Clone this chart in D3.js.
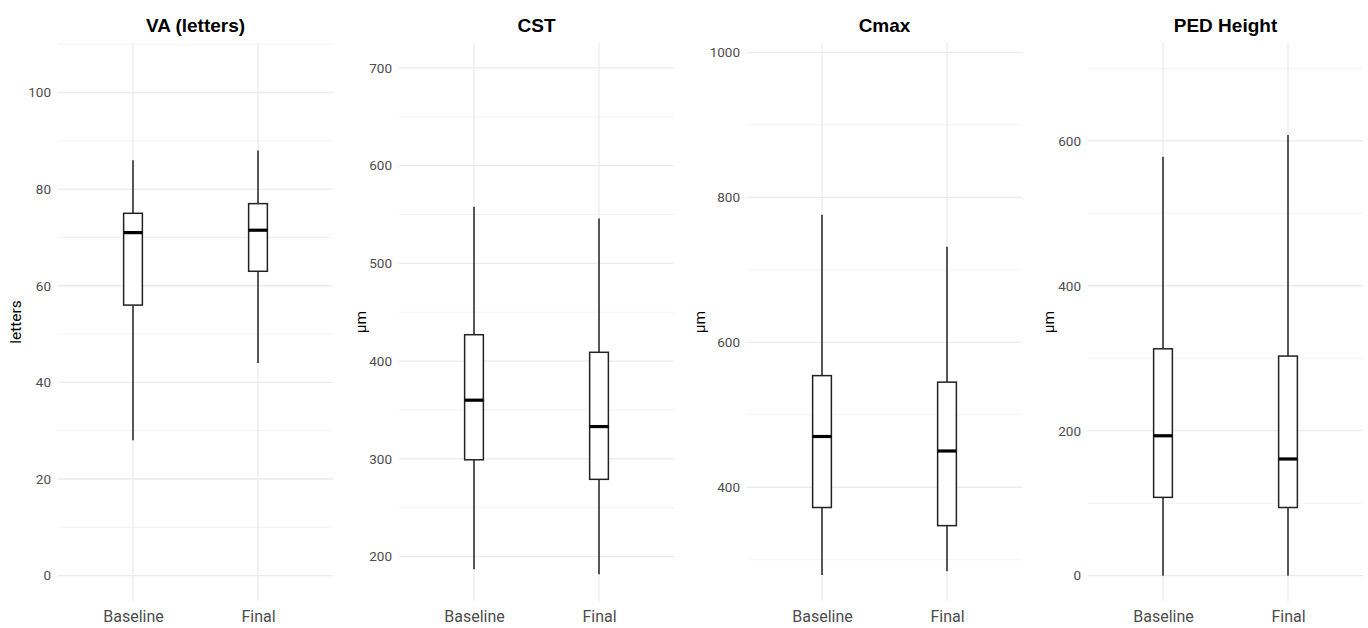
<!DOCTYPE html>
<html><head><meta charset="utf-8">
<script src="https://cdn.jsdelivr.net/npm/d3@7"></script>
<style>
html,body{margin:0;padding:0;background:#fff;}
svg{display:block;}
</style></head>
<body>
<svg id="chart" width="1368" height="628"></svg>
<script>
// ---- data ----
const panelTitles = ["VA (letters)", "CST", "Cmax", "PED Height"];
const yTitles = ["letters", "µm", "µm", "µm"];
const groups = ["Baseline", "Final"];
// per panel: [Baseline, Final]
const whiskerLow  = [[28, 44],  [187, 182], [279, 284], [0, 0]];
const q1          = [[56, 63],  [299, 279], [372, 347], [108, 94]];
const median      = [[71, 71.5],[360, 333], [470, 450], [193, 161]];
const q3          = [[75, 77],  [427, 409], [554, 545], [313, 303]];
const whiskerHigh = [[86, 88],  [558, 546], [776, 732], [578, 608]];
const yMajorTicks = [[0, 20, 40, 60, 80, 100], [200, 300, 400, 500, 600, 700], [400, 600, 800, 1000], [0, 200, 400, 600]];
const yMinorTicks = [[10, 30, 50, 70, 90, 110], [250, 350, 450, 550, 650], [300, 500, 700, 900], [100, 300, 500, 700]];
const yDomains = [[-5.25, 110.25], [154.5, 725.5], [243, 1013], [-35, 735]];

// ---- layout ----
const panelLeft = [58, 399, 747, 1088];
const yTitleX = [21, 366, 705, 1054];
const panelWidth = 275;
const panelTop = 43, panelBottom = 601;
const tickFont = "Roboto, 'Liberation Sans', Arial, sans-serif";
const titleFont = "'Liberation Sans', Arial, sans-serif";
const svg = d3.select("#chart");

panelTitles.forEach((title, i) => {
  const x0 = panelLeft[i], x1 = x0 + panelWidth;
  const x = d3.scalePoint().domain(groups).range([x0, x1]).padding(0.6);
  const y = d3.scaleLinear().domain(yDomains[i]).range([panelBottom, panelTop]);
  const g = svg.append("g");

  // minor gridlines
  g.append("g").selectAll("line").data(yMinorTicks[i]).join("line")
    .attr("x1", x0).attr("x2", x1)
    .attr("y1", d => y(d)).attr("y2", d => y(d))
    .attr("stroke", "#efefef").attr("stroke-width", 0.8);
  // major gridlines
  g.append("g").selectAll("line").data(yMajorTicks[i]).join("line")
    .attr("x1", x0).attr("x2", x1)
    .attr("y1", d => y(d)).attr("y2", d => y(d))
    .attr("stroke", "#ebebeb").attr("stroke-width", 1.3);
  // vertical gridlines
  g.append("g").selectAll("line").data(groups).join("line")
    .attr("x1", d => x(d)).attr("x2", d => x(d))
    .attr("y1", panelTop).attr("y2", panelBottom)
    .attr("stroke", "#ebebeb").attr("stroke-width", 1.3);

  // y axis
  const ya = g.append("g").attr("transform", `translate(${x0},0)`)
    .call(d3.axisLeft(y).tickValues(yMajorTicks[i]).tickSize(0).tickPadding(7).tickFormat(d3.format("d")));
  ya.select(".domain").remove();
  ya.selectAll("text").attr("font-family", tickFont)
    .attr("font-size", 13.5).attr("fill", "#4d4d4d");

  // x axis
  const xa = g.append("g").attr("transform", `translate(0,${panelBottom})`)
    .call(d3.axisBottom(x).tickSize(0).tickPadding(10));
  xa.select(".domain").remove();
  xa.selectAll("text").attr("font-family", tickFont)
    .attr("font-size", 16).attr("fill", "#4d4d4d");

  // boxes
  const bw = x.step() * 0.15;
  groups.forEach((grp, j) => {
    const cx = x(grp);
    g.append("line").attr("x1", cx).attr("x2", cx)
      .attr("y1", y(q3[i][j])).attr("y2", y(whiskerHigh[i][j]))
      .attr("stroke", "#222").attr("stroke-width", 1.5);
    g.append("line").attr("x1", cx).attr("x2", cx)
      .attr("y1", y(q1[i][j])).attr("y2", y(whiskerLow[i][j]))
      .attr("stroke", "#222").attr("stroke-width", 1.5);
    g.append("rect").attr("x", cx - bw / 2).attr("width", bw)
      .attr("y", y(q3[i][j])).attr("height", y(q1[i][j]) - y(q3[i][j]))
      .attr("fill", "#fff").attr("stroke", "#222").attr("stroke-width", 1.5);
    g.append("line").attr("x1", cx - bw / 2).attr("x2", cx + bw / 2)
      .attr("y1", y(median[i][j])).attr("y2", y(median[i][j]))
      .attr("stroke", "#000").attr("stroke-width", 3.2);
  });

  // title
  svg.append("text").attr("x", (x0 + x1) / 2).attr("y", 32)
    .attr("text-anchor", "middle")
    .attr("font-family", titleFont)
    .attr("font-weight", "bold").attr("font-size", 19).attr("fill", "#000")
    .text(title);

  // y title
  svg.append("text")
    .attr("transform", `translate(${yTitleX[i]},${(panelTop + panelBottom) / 2}) rotate(-90)`)
    .attr("text-anchor", "middle")
    .attr("font-family", tickFont)
    .attr("font-size", 15.5).attr("fill", "#000")
    .text(yTitles[i]);
});
</script>
</body></html>
